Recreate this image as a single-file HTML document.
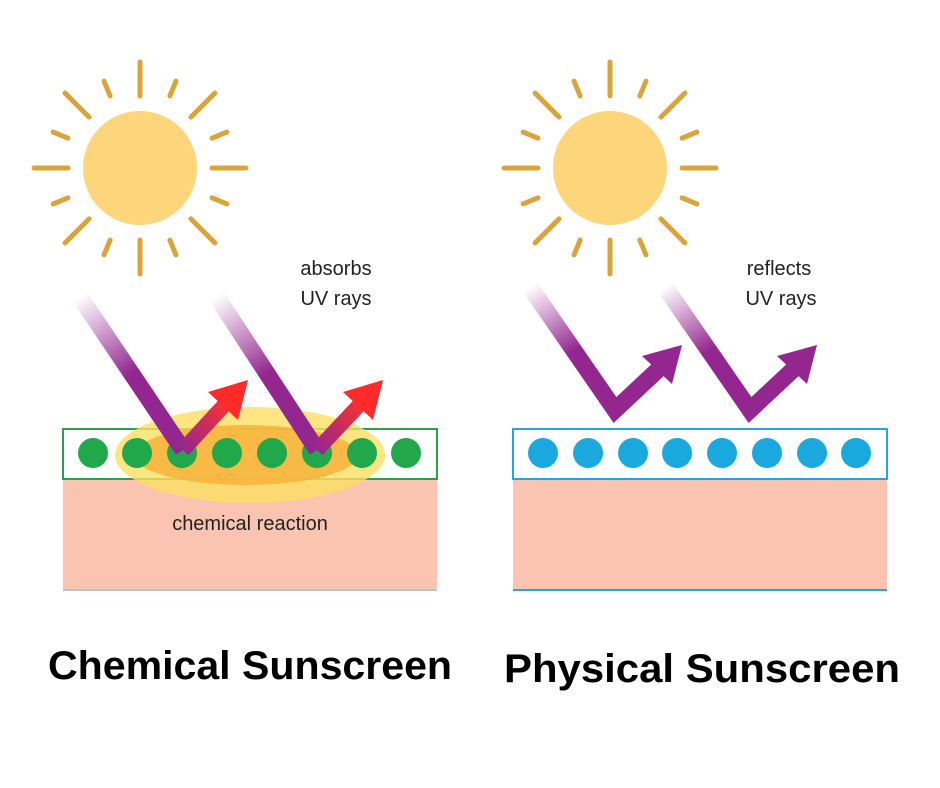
<!DOCTYPE html>
<html><head><meta charset="utf-8"><style>
html,body{margin:0;padding:0;background:#fff;width:940px;height:788px;overflow:hidden}
svg{display:block}
</style></head><body>
<svg width="940" height="788" viewBox="0 0 940 788" xmlns="http://www.w3.org/2000/svg">
<defs>
<g id="rays" stroke="#d9a53a" stroke-width="5" stroke-linecap="round">
<line x1="0" y1="-72" x2="0" y2="-106"/>
<line x1="0" y1="-72" x2="0" y2="-106" transform="rotate(45)"/>
<line x1="0" y1="-72" x2="0" y2="-106" transform="rotate(90)"/>
<line x1="0" y1="-72" x2="0" y2="-106" transform="rotate(135)"/>
<line x1="0" y1="-72" x2="0" y2="-106" transform="rotate(180)"/>
<line x1="0" y1="-72" x2="0" y2="-106" transform="rotate(225)"/>
<line x1="0" y1="-72" x2="0" y2="-106" transform="rotate(270)"/>
<line x1="0" y1="-72" x2="0" y2="-106" transform="rotate(315)"/>
<line x1="0" y1="-78" x2="0" y2="-94" transform="rotate(22.5)"/>
<line x1="0" y1="-78" x2="0" y2="-94" transform="rotate(67.5)"/>
<line x1="0" y1="-78" x2="0" y2="-94" transform="rotate(112.5)"/>
<line x1="0" y1="-78" x2="0" y2="-94" transform="rotate(157.5)"/>
<line x1="0" y1="-78" x2="0" y2="-94" transform="rotate(202.5)"/>
<line x1="0" y1="-78" x2="0" y2="-94" transform="rotate(247.5)"/>
<line x1="0" y1="-78" x2="0" y2="-94" transform="rotate(292.5)"/>
<line x1="0" y1="-78" x2="0" y2="-94" transform="rotate(337.5)"/>
</g>
<linearGradient id="pg1" gradientUnits="userSpaceOnUse" x1="80" y1="297" x2="183" y2="450"><stop offset="0" stop-color="#fff"/><stop offset="0.5" stop-color="#93278f"/><stop offset="1" stop-color="#93278f"/></linearGradient>
<linearGradient id="pg2" gradientUnits="userSpaceOnUse" x1="217" y1="297" x2="317" y2="450"><stop offset="0" stop-color="#fff"/><stop offset="0.5" stop-color="#93278f"/><stop offset="1" stop-color="#93278f"/></linearGradient>
<linearGradient id="pg3" gradientUnits="userSpaceOnUse" x1="530" y1="287" x2="615" y2="417"><stop offset="0" stop-color="#fff"/><stop offset="0.5" stop-color="#93278f"/><stop offset="1" stop-color="#93278f"/></linearGradient>
<linearGradient id="pg4" gradientUnits="userSpaceOnUse" x1="665" y1="287" x2="750" y2="417"><stop offset="0" stop-color="#fff"/><stop offset="0.5" stop-color="#93278f"/><stop offset="1" stop-color="#93278f"/></linearGradient>
<linearGradient id="rg1" gradientUnits="userSpaceOnUse" x1="183" y1="450" x2="248" y2="380"><stop offset="0" stop-color="#93278f"/><stop offset="0.6" stop-color="#f0303a"/><stop offset="1" stop-color="#ff2b2b"/></linearGradient>
<linearGradient id="rg2" gradientUnits="userSpaceOnUse" x1="317" y1="450" x2="383" y2="380"><stop offset="0" stop-color="#93278f"/><stop offset="0.6" stop-color="#f0303a"/><stop offset="1" stop-color="#ff2b2b"/></linearGradient>
</defs>

<circle cx="140" cy="168" r="57" fill="#fdd57a"/>
<use href="#rays" transform="translate(140,168)"/>
<circle cx="610" cy="168" r="57" fill="#fdd57a"/>
<use href="#rays" transform="translate(610,168)"/>

<g font-family="'Liberation Sans',sans-serif" font-size="20" fill="#222" text-anchor="middle">
<text x="336" y="275">absorbs</text>
<text x="336" y="305">UV rays</text>
<text x="779" y="275">reflects</text>
<text x="781" y="305">UV rays</text>
</g>

<rect x="63" y="479" width="374" height="111" fill="#fbc4b1"/>
<line x1="63" y1="590" x2="437" y2="590" stroke="#a9cfb5" stroke-width="2"/>
<rect x="63" y="429" width="374" height="50" fill="#fff" stroke="#2aa14a" stroke-width="2"/>
<ellipse cx="250" cy="455" rx="135" ry="48" fill="#fde063" opacity="0.8"/>
<ellipse cx="246" cy="455" rx="112" ry="30" fill="#f7b13a" opacity="0.85"/>
<g fill="#20a84a">
<circle cx="93" cy="453" r="15"/><circle cx="137" cy="453" r="15"/><circle cx="182" cy="453" r="15"/><circle cx="227" cy="453" r="15"/>
<circle cx="272" cy="453" r="15"/><circle cx="317" cy="453" r="15"/><circle cx="362" cy="453" r="15"/><circle cx="406" cy="453" r="15"/>
</g>
<text x="250" y="530" font-family="'Liberation Sans',sans-serif" font-size="20" fill="#222" text-anchor="middle">chemical reaction</text>

<line x1="80" y1="297" x2="183" y2="450" stroke="url(#pg1)" stroke-width="17"/>
<line x1="183" y1="450" x2="228" y2="401" stroke="url(#rg1)" stroke-width="15"/>
<polygon points="248,380 208,392 238,420" fill="#ff2b2b"/>
<line x1="217" y1="297" x2="317" y2="450" stroke="url(#pg2)" stroke-width="17"/>
<line x1="317" y1="450" x2="363" y2="401" stroke="url(#rg2)" stroke-width="15"/>
<polygon points="383,380 343,392 373,420" fill="#ff2b2b"/>

<rect x="513" y="479" width="374" height="111" fill="#fbc4b1"/>
<line x1="513" y1="590" x2="887" y2="590" stroke="#25a6d9" stroke-width="2"/>
<rect x="513" y="429" width="374" height="50" fill="#fff" stroke="#25a6d9" stroke-width="2"/>
<g fill="#1aa9de">
<circle cx="543" cy="453" r="15"/><circle cx="588" cy="453" r="15"/><circle cx="633" cy="453" r="15"/><circle cx="677" cy="453" r="15"/>
<circle cx="722" cy="453" r="15"/><circle cx="767" cy="453" r="15"/><circle cx="812" cy="453" r="15"/><circle cx="856" cy="453" r="15"/>
</g>
<polyline points="530,287 615,410 662,366" fill="none" stroke="url(#pg3)" stroke-width="17"/>
<polygon points="682,345 642,356 672,384" fill="#93278f"/>
<polyline points="665,287 750,410 797,366" fill="none" stroke="url(#pg4)" stroke-width="17"/>
<polygon points="817,345 777,356 807,384" fill="#93278f"/>

<g font-family="'Liberation Sans',sans-serif" font-weight="bold" font-size="40" fill="#000">
<text x="48" y="679" textLength="404" lengthAdjust="spacingAndGlyphs">Chemical Sunscreen</text>
<text x="504" y="682" textLength="396" lengthAdjust="spacingAndGlyphs">Physical Sunscreen</text>
</g>
</svg>
</body></html>
